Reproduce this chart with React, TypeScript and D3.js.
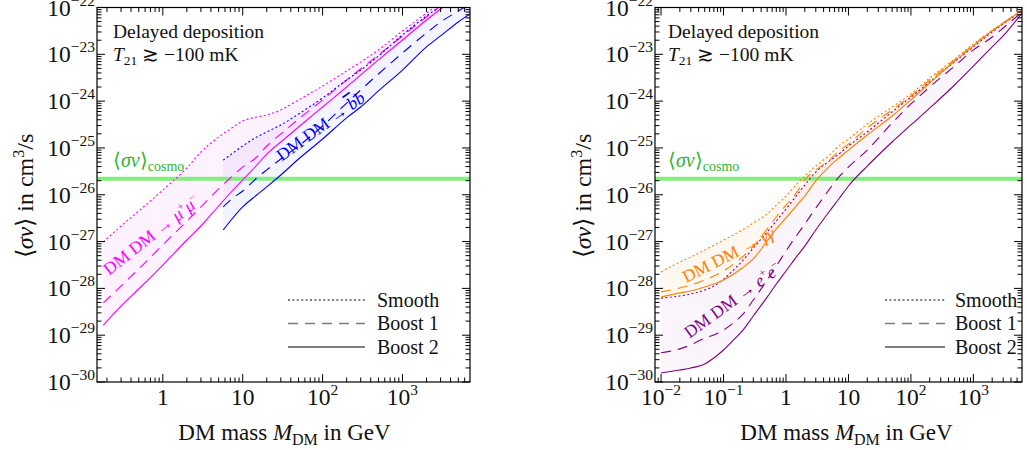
import React from "react";
import * as d3 from "d3";

// ---------- DATA ----------
// Left panel: DM DM -> mu+ mu-
const muMass = [0.18, 0.3, 0.5, 1, 2, 3, 5, 7, 10, 15, 20, 30, 50, 100, 200, 500, 1000, 2000, 3000, 7000];
const muSmooth = [9.8e-28, 2.15e-27, 4.5e-27, 1.26e-26, 3.73e-26, 8.2e-26, 1.71e-25, 2.54e-25, 3.77e-25, 4.58e-25, 5.06e-25, 6.47e-25, 1.06e-24, 2.1e-24, 4.4e-24, 1.24e-23, 3.15e-23, 7.6e-23, 1.25e-22, 3.6e-22];
const muBoost1 = [4.9e-29, 1.12e-28, 2.6e-28, 8.5e-28, 2.75e-27, 5.5e-27, 1.33e-26, 2.28e-26, 3.9e-26, 6.4e-26, 1.1e-25, 1.99e-25, 4.15e-25, 1.06e-24, 2.83e-24, 9.7e-24, 2.47e-23, 6.3e-23, 1.08e-22, 3.2e-22];
const muBoost2 = [1.65e-29, 4.2e-29, 9.7e-29, 3.15e-28, 1.08e-27, 2.15e-27, 5.75e-27, 1.09e-26, 2.07e-26, 4.3e-26, 7.4e-26, 1.34e-25, 2.8e-25, 7.5e-25, 2.0e-24, 7.6e-24, 2.02e-23, 5.4e-23, 9.3e-23, 2.8e-22];

// Left panel: DM DM -> b bbar
const bMass = [5.7, 7, 10, 15, 20, 30, 50, 100, 200, 300, 500, 1000, 2000, 3000, 5000, 7000];
const bSmooth = [5.5e-26, 7.1e-26, 1.1e-25, 1.71e-25, 2.19e-25, 3.1e-25, 5.3e-25, 1.17e-24, 2.83e-24, 4.6e-24, 9.2e-24, 2.6e-23, 6.6e-23, 1.08e-22, 2.2e-22, 3.2e-22];
const bBoost1 = [5.5e-27, 7.7e-27, 1.2e-26, 2.28e-26, 3.4e-26, 5.8e-26, 1.1e-25, 2.94e-25, 9.1e-25, 1.73e-24, 3.8e-24, 1.07e-23, 2.86e-23, 4.9e-23, 8.4e-23, 1.19e-22];
const bBoost2 = [1.77e-27, 2.75e-27, 5.5e-27, 9.9e-27, 1.47e-26, 2.64e-26, 5.8e-26, 1.55e-25, 4.4e-25, 7.5e-25, 1.65e-24, 4.6e-24, 1.44e-23, 2.47e-23, 4.9e-23, 7.3e-23];

// Right panel: DM DM -> gamma gamma
const gMass = [0.01, 0.02, 0.03, 0.05, 0.1, 0.2, 0.3, 0.5, 0.7, 1, 1.5, 2, 3, 5, 7, 10, 20, 50, 100, 200, 500, 1000, 2000, 3000, 6000];
const gSmooth = [2.24e-28, 3.66e-28, 4.68e-28, 6.6e-28, 1.08e-27, 1.77e-27, 2.5e-27, 3.9e-27, 6.0e-27, 9.4e-27, 1.7e-26, 2.52e-26, 4.1e-26, 7.1e-26, 1.1e-25, 1.55e-25, 3.25e-25, 7.5e-25, 1.42e-24, 3.12e-24, 7.9e-24, 1.66e-23, 3.3e-23, 4.7e-23, 9.0e-23];
const gBoost1 = [8.4e-29, 1.02e-28, 1.18e-28, 1.51e-28, 2.35e-28, 4.68e-28, 8.0e-28, 1.86e-27, 3.35e-27, 6.0e-27, 1.15e-26, 2.07e-26, 3.4e-26, 5.5e-26, 8.6e-26, 1.21e-25, 2.67e-25, 6.5e-25, 1.29e-24, 2.83e-24, 7.6e-24, 1.58e-23, 3.15e-23, 4.65e-23, 8.9e-23];
const gBoost2 = [6.5e-29, 8.0e-29, 8.8e-29, 1.07e-28, 1.51e-28, 2.72e-28, 4.25e-28, 1.03e-27, 1.86e-27, 3.19e-27, 6.0e-27, 9.4e-27, 1.97e-26, 4.1e-26, 6.1e-26, 9.0e-26, 1.89e-25, 4.8e-25, 1.06e-24, 2.44e-24, 7.2e-24, 1.51e-23, 3.2e-23, 4.6e-23, 8.8e-23];

// Right panel: DM DM -> e+ e-
const eMass = [0.01, 0.02, 0.03, 0.05, 0.07, 0.1, 0.15, 0.2, 0.3, 0.5, 0.7, 1, 1.5, 2, 3, 5, 7, 10, 20, 50, 100, 200, 500, 1000, 2000, 3000, 6000];
const eSmooth = [6.2e-29, 6.9e-29, 7.6e-29, 9.2e-29, 1.12e-28, 1.58e-28, 2.6e-28, 3.85e-28, 7.3e-28, 1.6e-27, 2.75e-27, 4.97e-27, 9.9e-27, 1.61e-26, 3.06e-26, 5.3e-26, 7.4e-26, 1.1e-25, 2.19e-25, 5.9e-25, 1.22e-24, 2.56e-24, 6.9e-24, 1.44e-23, 3.0e-23, 4.45e-23, 8.4e-23];
const eBoost1 = [4.2e-30, 5.1e-30, 6.2e-30, 8.7e-30, 1.01e-29, 1.29e-29, 1.91e-29, 2.7e-29, 5.65e-29, 1.51e-28, 3.0e-28, 6.3e-28, 1.38e-27, 2.37e-27, 5.2e-27, 1.33e-26, 2.39e-26, 3.9e-26, 9.0e-26, 3.4e-25, 8.7e-25, 2.0e-24, 5.6e-24, 1.24e-23, 2.34e-23, 3.65e-23, 8.0e-23];
const eBoost2 = [1.56e-30, 1.8e-30, 1.99e-30, 2.43e-30, 3.26e-30, 4.83e-30, 8.3e-30, 1.23e-29, 2.57e-29, 6.5e-29, 1.24e-28, 2.35e-28, 4.9e-28, 8.0e-28, 1.77e-27, 4.5e-27, 8.1e-27, 1.54e-26, 4.1e-26, 1.34e-25, 3.1e-25, 7.1e-25, 2.21e-24, 5.6e-24, 1.44e-23, 2.47e-23, 7.6e-23];

const cosmoSigmaV = 2.2e-26;
const yTickExponents = [-30, -29, -28, -27, -26, -25, -24, -23, -22];
const leftXMajor = [1, 10, 100, 1000];
const leftXLabels = ["1", "10", "10|2", "10|3"];
const rightXMajor = [0.01, 0.1, 1, 10, 100, 1000];
const rightXLabels = ["10|−2", "10|−1", "1", "10", "10|2", "10|3"];
const legendLabels = ["Smooth", "Boost 1", "Boost 2"];

// ---------- STYLE ----------
const FONT = "'Liberation Serif', 'Times New Roman', serif";
const TOP = 7.5;
const BOTTOM = 382;
const DOT = "2,2.4";
const DASH = "10,7";
const TICK_FS = 23.5;
const SUP_FS = 15.5;
const yScale = d3.scaleLog().domain([1e-30, 1e-22]).range([BOTTOM, TOP]);

type Series = {
  mass: number[];
  smooth: number[];
  boost1: number[];
  boost2: number[];
  color: string;
  fill: number;
};

type PanelProps = {
  id: string;
  x0: number;
  x1: number;
  domain: [number, number];
  major: number[];
  majorLabels: string[];
  series: Series[];
  labels: { m: number; s: number; angle: number; color: string; node: React.ReactNode }[];
  legendX: [number, number, number];
  textX: number;
  titleShift: number;
};

function supLabel(lbl: string) {
  const [base, sup] = lbl.split("|");
  return (
    <>
      {base}
      {sup !== undefined && (
        <tspan dy={-10} fontSize={SUP_FS}>
          {sup}
        </tspan>
      )}
    </>
  );
}

function Panel(p: PanelProps) {
  const x = d3.scaleLog().domain(p.domain).range([p.x0, p.x1]);
  const [d0, d1] = p.domain;
  const xMinor: { v: number; major: boolean }[] = [];
  for (let e = Math.floor(Math.log10(d0)); e <= Math.ceil(Math.log10(d1)); e++) {
    for (let k = 1; k <= 9; k++) {
      const v = k * Math.pow(10, e);
      if (v >= d0 * 1.0001 && v <= d1 * 0.9999) xMinor.push({ v, major: k === 1 });
    }
  }
  const yMinor: { v: number; major: boolean }[] = [];
  for (let e = -30; e <= -22; e++) {
    for (let k = 1; k <= 9; k++) {
      const v = k * Math.pow(10, e);
      if (v <= 1e-22 * 1.0001) yMinor.push({ v, major: k === 1 });
    }
  }
  const line = (mass: number[]) =>
    d3
      .line<number>()
      .x((_, i) => x(mass[i]))
      .y((d) => yScale(d))
      .curve(d3.curveMonotoneX);
  const area = (s: Series) =>
    d3
      .area<number>()
      .x((_, i) => x(s.mass[i]))
      .y0((_, i) => yScale(s.boost2[i]))
      .y1((d) => yScale(d))
      .curve(d3.curveMonotoneX);
  const yC = yScale(cosmoSigmaV);
  const legendY = [300, 323.5, 347];
  return (
    <g>
      <defs>
        <clipPath id={p.id}>
          <rect x={p.x0} y={TOP} width={p.x1 - p.x0} height={BOTTOM - TOP} />
        </clipPath>
      </defs>
      <g clipPath={`url(#${p.id})`}>
        {p.series.map((s, i) => (
          <path key={"a" + i} d={area(s)(s.smooth) || ""} fill={s.color} fillOpacity={s.fill} stroke="none" />
        ))}
        <line x1={p.x0} x2={p.x1} y1={yC} y2={yC} stroke="#82ee7c" strokeWidth={4} />
        {p.series.map((s, i) => (
          <g key={"l" + i} fill="none" stroke={s.color} strokeWidth={1.1}>
            <path d={line(s.mass)(s.smooth) || ""} strokeDasharray={DOT} />
            <path d={line(s.mass)(s.boost1) || ""} strokeDasharray={DASH} />
            <path d={line(s.mass)(s.boost2) || ""} />
          </g>
        ))}
      </g>
      {/* process labels */}
      {p.labels.map((l, i) => (
        <text
          key={"t" + i}
          transform={`translate(${x(l.m)},${yScale(l.s)}) rotate(${l.angle})`}
          textAnchor="middle"
          fontFamily={FONT}
          fontSize={17.5}
          fill={l.color}
        >
          {l.node}
        </text>
      ))}
      {/* frame */}
      <rect x={p.x0} y={TOP} width={p.x1 - p.x0} height={BOTTOM - TOP} fill="none" stroke="#000" strokeWidth={1.2} />
      {/* x ticks */}
      {xMinor.map((t, i) => {
        const xx = x(t.v);
        const len = t.major ? 8 : 4.5;
        return (
          <g key={"xt" + i} stroke="#000" strokeWidth={1}>
            <line x1={xx} x2={xx} y1={BOTTOM} y2={BOTTOM - len} />
            <line x1={xx} x2={xx} y1={TOP} y2={TOP + len} />
          </g>
        );
      })}
      {/* y ticks */}
      {yMinor.map((t, i) => {
        const yy = yScale(t.v);
        const len = t.major ? 8 : 4.5;
        return (
          <g key={"yt" + i} stroke="#000" strokeWidth={1}>
            <line x1={p.x0} x2={p.x0 + len} y1={yy} y2={yy} />
            <line x1={p.x1} x2={p.x1 - len} y1={yy} y2={yy} />
          </g>
        );
      })}
      {/* x tick labels */}
      {p.major.map((v, i) => (
        <text key={"xl" + i} x={x(v)} y={405} textAnchor="middle" fontFamily={FONT} fontSize={TICK_FS} fill="#111">
          {supLabel(p.majorLabels[i])}
        </text>
      ))}
      {/* y tick labels */}
      {yTickExponents.map((e) => (
        <text key={"yl" + e} x={p.x0 - 2} y={yScale(Math.pow(10, e)) + 8} textAnchor="end" fontFamily={FONT} fontSize={TICK_FS} fill="#111">
          10
          <tspan dy={-10} fontSize={SUP_FS}>
            {"−" + Math.abs(e)}
          </tspan>
        </text>
      ))}
      {/* axis titles */}
      <text
        transform={`translate(${p.x0 - 64},196) rotate(-90)`}
        textAnchor="middle"
        fontFamily={FONT}
        fontSize={24}
        fill="#111"
      >
        ⟨<tspan fontStyle="italic">σv</tspan>⟩ in cm
        <tspan dy={-9} fontSize={16}>3</tspan>
        <tspan dy={9}>/s</tspan>
      </text>
      <text x={(p.x0 + p.x1) / 2 + p.titleShift} y={440} textAnchor="middle" fontFamily={FONT} fontSize={23} fill="#111">
        DM mass <tspan fontStyle="italic">M</tspan>
        <tspan dy={5} fontSize={16}>DM</tspan>
        <tspan dy={-5}> in GeV</tspan>
      </text>
      {/* annotations */}
      <text x={p.textX} y={38} fontFamily={FONT} fontSize={19.5} fill="#111">
        Delayed deposition
      </text>
      <text x={p.textX} y={61} fontFamily={FONT} fontSize={19.5} fill="#111">
        <tspan fontStyle="italic">T</tspan>
        <tspan dy={4} fontSize={13.5}>21</tspan>
        <tspan dy={-4}> ≳ −100 mK</tspan>
      </text>
      <text x={p.textX} y={167} fontFamily={FONT} fontSize={20} fill="#2fb52f">
        ⟨<tspan fontStyle="italic">σv</tspan>⟩<tspan dy={4} fontSize={14}>cosmo</tspan>
      </text>
      {/* legend */}
      {legendLabels.map((lbl, i) => (
        <g key={"lg" + i}>
          <line
            x1={p.legendX[0]}
            x2={p.legendX[1]}
            y1={legendY[i]}
            y2={legendY[i]}
            stroke={i === 1 ? "#7a7a7a" : "#000"}
            strokeWidth={i === 1 ? 1.6 : 1}
            strokeDasharray={i === 0 ? DOT : i === 1 ? DASH : undefined}
          />
          <text x={p.legendX[2]} y={legendY[i] + 6.5} fontFamily={FONT} fontSize={20} fill="#111">
            {lbl}
          </text>
        </g>
      ))}
    </g>
  );
}

export default function App() {
  const left: Series[] = [
    { mass: muMass, smooth: muSmooth, boost1: muBoost1, boost2: muBoost2, color: "#ff00ff", fill: 0.05 },
    { mass: bMass, smooth: bSmooth, boost1: bBoost1, boost2: bBoost2, color: "#0000ff", fill: 0.045 },
  ];
  const right: Series[] = [
    { mass: eMass, smooth: eSmooth, boost1: eBoost1, boost2: eBoost2, color: "#800080", fill: 0.04 },
    { mass: gMass, smooth: gSmooth, boost1: gBoost1, boost2: gBoost2, color: "#ff8000", fill: 0.06 },
  ];
  const it = (s: string) => <tspan fontStyle="italic">{s}</tspan>;
  return (
    <svg
      width={1027}
      height={450}
      viewBox="0 0 1027 450"
      style={{ position: "absolute", left: 0, top: 0, background: "#fff" }}
    >
      <rect width={1027} height={450} fill="#fff" />
      <Panel
        id="clipL"
        x0={97}
        x1={470}
        domain={[0.15, 7000]}
        major={leftXMajor}
        majorLabels={leftXLabels}
        series={left}
        legendX={[288, 365, 377]}
        textX={113}
        titleShift={1}
        labels={[
          {
            m: 0.8,
            s: 1.1e-27,
            angle: -38,
            color: "#ff00ff",
            node: (
              <>
                DM DM → {it("μ")}
                <tspan dy={-7} fontSize={11}>+</tspan>
                <tspan dy={7} fontStyle="italic">μ</tspan>
                <tspan dy={-7} fontSize={11}>−</tspan>
              </>
            ),
          },
          {
            m: 104,
            s: 2.3e-25,
            angle: -36,
            color: "#0000ff",
            node: (
              <>
                DM DM →{" "}
                <tspan fontStyle="italic" style={{ textDecoration: "overline" }}>
                  b
                </tspan>
                <tspan fontStyle="italic">b</tspan>
              </>
            ),
          },
        ]}
      />
      <Panel
        id="clipR"
        x0={655}
        x1={1022}
        domain={[0.008, 6000]}
        major={rightXMajor}
        majorLabels={rightXLabels}
        series={right}
        legendX={[885, 945, 955]}
        textX={668}
        titleShift={8}
        labels={[
          {
            m: 0.132,
            s: 4.0e-28,
            angle: -27,
            color: "#ff8000",
            node: <>DM DM → {it("γγ")}</>,
          },
          {
            m: 0.158,
            s: 4.4e-29,
            angle: -36,
            color: "#800080",
            node: (
              <>
                DM DM → {it("e")}
                <tspan dy={-7} fontSize={11}>+</tspan>
                <tspan dy={7} fontStyle="italic">e</tspan>
                <tspan dy={-7} fontSize={11}>−</tspan>
              </>
            ),
          },
        ]}
      />
    </svg>
  );
}
